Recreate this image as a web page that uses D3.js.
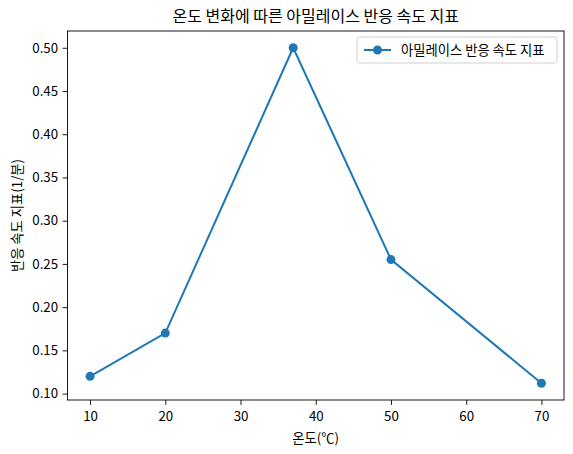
<!DOCTYPE html>
<html>
<head>
<meta charset="utf-8">
<script src="https://cdn.jsdelivr.net/npm/d3@7"></script>
<style>
  body { margin: 0; background: #fff; }
  svg { display: block; }
  text { font-family: "Noto Sans CJK KR", "Noto Sans", sans-serif; fill: #000; }
</style>
</head>
<body>
<div id="chart"></div>
<script>
// data
const temperatures = [10, 20, 37, 50, 70];
const rates = [0.12, 0.17, 0.50, 0.255, 0.112];
const xTicks = [10, 20, 30, 40, 50, 60, 70];
const yTicks = [0.10, 0.15, 0.20, 0.25, 0.30, 0.35, 0.40, 0.45, 0.50];
const titleText = '온도 변화에 따른 아밀레이스 반응 속도 지표';
const xLabel = '온도(℃)';
const yLabel = '반응 속도 지표(1/분)';
const seriesName = '아밀레이스 반응 속도 지표';

const width = 573;
const height = 454;
const margin = { top: 31, right: 9, bottom: 54, left: 67.5 };
const color = '#1f77b4';

const svg = d3.select('#chart')
    .append('svg')
    .attr('width', width)
    .attr('height', height);

const chartWidth = width - margin.left - margin.right;
const chartHeight = height - margin.top - margin.bottom;

const chart = svg.append('g')
    .attr('transform', `translate(${margin.left},${margin.top})`);

// matplotlib style 5% padding around data
const xMin = d3.min(temperatures), xMax = d3.max(temperatures);
const xPad = (xMax - xMin) * 0.05;
const yMin = d3.min(rates), yMax = d3.max(rates);
const yPad = (yMax - yMin) * 0.05;

const xScale = d3.scaleLinear()
    .domain([xMin - xPad, xMax + xPad])
    .range([0, chartWidth]);
const yScale = d3.scaleLinear()
    .domain([yMin - yPad, yMax + yPad])
    .range([chartHeight, 0]);

const xAxis = d3.axisBottom(xScale)
    .tickValues(xTicks)
    .tickSize(4.9)
    .tickPadding(4.5)
    .tickFormat(d3.format('d'));
const yAxis = d3.axisLeft(yScale)
    .tickValues(yTicks)
    .tickSize(4.9)
    .tickPadding(4.5)
    .tickFormat(d3.format('.2f'));

const gx = chart.append('g')
    .attr('transform', `translate(0,${chartHeight})`)
    .call(xAxis);
const gy = chart.append('g')
    .call(yAxis);

[gx, gy].forEach(g => {
    g.select('.domain').remove();
    g.selectAll('.tick line').attr('stroke', '#000').attr('stroke-width', 0.9);
    g.selectAll('.tick text')
        .style('font-size', '13.3px')
        .attr('fill', '#000');
});
gx.selectAll('.tick text').attr('dy', '0.9em');

// frame
chart.append('rect')
    .attr('x', 0)
    .attr('y', 0)
    .attr('width', chartWidth)
    .attr('height', chartHeight)
    .attr('fill', 'none')
    .attr('stroke', '#000')
    .attr('stroke-width', 0.9);

const line = d3.line()
    .x((d, i) => xScale(temperatures[i]))
    .y(d => yScale(d));

chart.append('path')
    .datum(rates)
    .attr('d', line)
    .attr('fill', 'none')
    .attr('stroke', color)
    .attr('stroke-width', 2);

chart.selectAll('.dot')
    .data(rates)
    .enter()
    .append('circle')
    .classed('dot', true)
    .attr('cx', (d, i) => xScale(temperatures[i]))
    .attr('cy', d => yScale(d))
    .attr('r', 4.5)
    .attr('fill', color);

// title and axis labels
svg.append('text')
    .attr('x', margin.left + chartWidth / 2)
    .attr('y', 22)
    .style('font-size', '16px')
    .style('text-anchor', 'middle')
    .text(titleText);

svg.append('text')
    .attr('x', margin.left + chartWidth / 2)
    .attr('y', 443)
    .style('font-size', '13.3px')
    .style('text-anchor', 'middle')
    .text(xLabel);

svg.append('text')
    .attr('transform', `translate(22, ${margin.top + chartHeight / 2}) rotate(-90)`)
    .style('font-size', '13.3px')
    .style('text-anchor', 'middle')
    .text(yLabel);

// legend
const legend = svg.append('g')
    .attr('transform', 'translate(357,37)');

legend.append('rect')
    .attr('width', 200)
    .attr('height', 26)
    .attr('rx', 2.5)
    .attr('fill', '#fff')
    .attr('fill-opacity', 0.8)
    .attr('stroke', '#ccc')
    .attr('stroke-width', 0.9);

legend.append('line')
    .attr('x1', 7)
    .attr('x2', 34)
    .attr('y1', 13)
    .attr('y2', 13)
    .attr('stroke', color)
    .attr('stroke-width', 2);

legend.append('circle')
    .attr('cx', 20.5)
    .attr('cy', 13)
    .attr('r', 4.5)
    .attr('fill', color);

legend.append('text')
    .attr('x', 44)
    .attr('y', 18)
    .style('font-size', '13.3px')
    .text(seriesName);
</script>
</body>
</html>
